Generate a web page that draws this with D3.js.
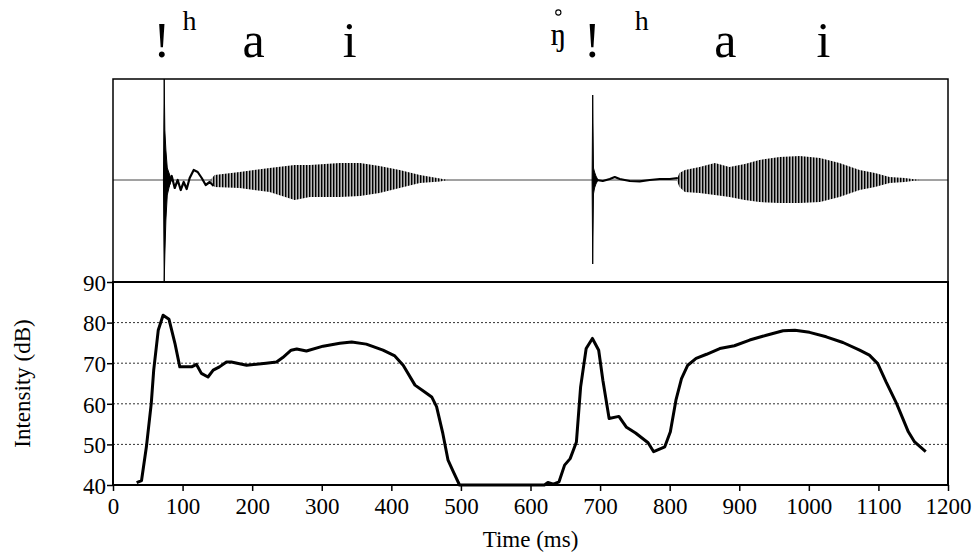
<!DOCTYPE html>
<html lang="en">
<head>
    <meta charset="utf-8">
    <title>Waveform and intensity</title>
    <script src="https://cdn.jsdelivr.net/npm/d3@7"></script>
    <style type="text/css">
        body {
            margin: 0;
            background: #fff;
        }
        .axis line {
            stroke: #000;
            stroke-width: 1.5;
        }
        .grid {
            fill: none;
            stroke: #333;
            stroke-width: 1;
            stroke-dasharray: 2 2;
        }
        .intensity {
            fill: none;
            stroke: #000;
            stroke-width: 3;
            stroke-linejoin: round;
        }
    </style>
</head>
<body>
<svg></svg>
<script type="text/javascript">
    // intensity contour (ms, dB)
    var intTime = [34, 41, 48, 55, 58.5, 65, 72, 80.5, 89, 96, 113, 120, 127, 136.5, 144, 153, 163, 170, 192, 220,
        235, 244, 256, 264, 278, 302, 326, 343, 364, 388, 405, 417, 434, 448, 458, 465, 474, 481.5, 489, 498,
        620, 625, 633, 641, 649, 657, 666, 672, 680, 689, 698, 704, 713, 727, 738, 751, 769, 777, 793, 801,
        809, 817, 826, 838, 853, 872, 893, 915, 939, 963, 980, 1001, 1025, 1049, 1073, 1087, 1099, 1111, 1126,
        1143, 1152, 1168];
    var intDb = [40.6, 41.1, 49.4, 60.1, 68.3, 78.1, 81.8, 80.8, 74.9, 69.1, 69.1, 69.7, 67.5, 66.6, 68.3, 69.1, 70.3, 70.3, 69.5, 70,
        70.3, 71.4, 73.2, 73.5, 73, 74.2, 74.9, 75.2, 74.7, 73.2, 71.8, 69.5, 64.6, 62.9, 61.7, 59.3, 52.7, 46.1, 43.3, 40,
        40, 40.6, 40.2, 40.8, 44.9, 46.5, 50.6, 64.1, 73.6, 76.1, 73.2, 65.8, 56.4, 56.9, 54.2, 52.8, 50.4, 48.2, 49.4, 53.1,
        60.9, 66.2, 69.5, 71.2, 72.2, 73.6, 74.3, 75.7, 76.9, 78, 78.1, 77.6, 76.5, 75.1, 73.2, 72, 69.9, 65.4, 60.1,
        53.1, 50.6, 48.2];

    // waveform envelopes of the two vowels (ms, amplitude)
    var vowel1Time = [140, 146, 182, 225, 261, 283, 326, 355, 383, 412, 441, 470, 481];
    var vowel1Up = [0, 5, 8, 12, 15, 15, 17, 17, 14, 10, 5, 1.5, 0];
    var vowel1Lo = [0, -7, -8, -12, -20, -17, -17, -16, -13, -8, -3, -1.5, 0];

    var vowel2Time = [810, 814, 822, 843, 865, 886, 908, 929, 958, 987, 1016, 1044, 1073, 1095, 1116, 1138, 1159];
    var vowel2Up = [0, 7, 10, 13, 17, 13, 16, 20, 23, 24, 22, 17, 10, 7, 3, 2, 0];
    var vowel2Lo = [0, -7, -12, -13, -15, -17, -20, -22, -23, -23, -22, -17, -10, -7, -3, -2, 0];

    // click bursts
    var click1Time = [72.5, 73.6, 74.5, 76, 78, 81, 84];
    var click1Up = [0, 101, 50, 30, 12, 6, 0];
    var click1Lo = [0, -102, -75, -40, -15, -6, 0];

    var click2Time = [688.5, 689.4, 690.5, 692, 694, 697];
    var click2Up = [0, 85, 12, 8, 4, 0];
    var click2Lo = [0, -84, -14, -8, -4, 0];

    // irregular noise after the clicks
    var noise1Time = [74.4, 77.2, 80, 84.4, 88.7, 93, 97.3, 101.6, 105.9, 110.2, 116, 121.7, 127.5, 133.2, 139, 144.7];
    var noise1Amp = [0, 8, -6, 4, -8, 0, -10, -2, -9, 2, 10, 8, 2, -5, -2, -6];
    var noise2Time = [690, 695.3, 703.9, 714, 721.1, 728.3, 742.7, 757, 771.4, 785.8, 800.2, 811.7];
    var noise2Amp = [0, 0, -1, 1, 3, 1, -1, -1.3, 0, 1, 1, 2];

    // segment labels above the waveform (size: 0 large, 1 superscript, 2 eng)
    var segText = ["!", "h", "a", "i", "\u014B", "!", "h", "a", "i"];
    var segTime = [70, 110, 202, 340, 640, 689, 760, 880, 1021];
    var segKind = [0, 1, 0, 0, 2, 0, 1, 0, 0];

    var yTicks = [40, 50, 60, 70, 80, 90];
    var xTicks = d3.range(0, 1201, 100);

    var serif = '"Liberation Serif", "Times New Roman", "DejaVu Serif", serif';

    var width = 978, height = 556;
    var left = 113, right = 948, waveTop = 79, mid = 282, bottom = 485;

    var xScale = d3.scaleLinear().domain([0, 1200]).range([left, right]);
    var yScale = d3.scaleLinear().domain([40, 90]).range([bottom, mid]);
    var wScale = d3.scaleLinear().domain([-102, 101]).range([mid, waveTop]);

    var svg = d3.select('svg')
        .attr('width', width)
        .attr('height', height);

    var defs = svg.append('defs');
    var pat = defs.append('pattern')
        .attr('id', 'stripes')
        .attr('width', 3)
        .attr('height', 20)
        .attr('patternUnits', 'userSpaceOnUse');
    pat.append('rect').attr('width', 3).attr('height', 20).attr('fill', '#b8b8b8');
    pat.append('rect').attr('width', 1.4).attr('height', 20).attr('fill', '#000');

    defs.append('clipPath').attr('id', 'lowclip')
        .append('rect')
        .attr('x', left).attr('y', mid)
        .attr('width', right - left).attr('height', bottom - mid + 2);

    // --- waveform panel ---
    svg.append('line')
        .attr('x1', left).attr('x2', right)
        .attr('y1', wScale(0)).attr('y2', wScale(0))
        .attr('stroke', '#444')
        .attr('stroke-width', 1);

    function zip(t, a, b) {
        return t.map(function (d, i) { return {t: d, up: a[i], lo: b[i]}; });
    }

    var env = d3.area()
        .x(function (d) { return xScale(d.t); })
        .y0(function (d) { return wScale(d.lo); })
        .y1(function (d) { return wScale(d.up); });

    [[vowel1Time, vowel1Up, vowel1Lo], [vowel2Time, vowel2Up, vowel2Lo]].forEach(function (v) {
        svg.append('path')
            .datum(zip(v[0], v[1], v[2]))
            .attr('d', env)
            .attr('fill', 'url(#stripes)');
    });

    [[click1Time, click1Up, click1Lo], [click2Time, click2Up, click2Lo]].forEach(function (v) {
        svg.append('path')
            .datum(zip(v[0], v[1], v[2]))
            .attr('d', env)
            .attr('fill', '#000')
            .attr('stroke', '#000')
            .attr('stroke-width', 1);
    });

    var noiseLine = d3.line()
        .x(function (d) { return xScale(d.t); })
        .y(function (d) { return wScale(d.a); });

    [[noise1Time, noise1Amp], [noise2Time, noise2Amp]].forEach(function (v) {
        svg.append('path')
            .datum(v[0].map(function (d, i) { return {t: d, a: v[1][i]}; }))
            .attr('d', noiseLine)
            .attr('fill', 'none')
            .attr('stroke', '#000')
            .attr('stroke-width', 2.2)
            .attr('stroke-linejoin', 'round');
    });

    svg.append('rect')
        .attr('x', left).attr('y', waveTop)
        .attr('width', right - left).attr('height', mid - waveTop)
        .attr('fill', 'none')
        .attr('stroke', '#000')
        .attr('stroke-width', 1.5);

    // --- intensity panel ---
    svg.selectAll('.grid')
        .data([50, 60, 70, 80])
        .enter().append('line')
        .attr('class', 'grid')
        .attr('x1', left).attr('x2', right)
        .attr('y1', function (d) { return yScale(d); })
        .attr('y2', function (d) { return yScale(d); });

    var line = d3.line()
        .x(function (d, i) { return xScale(intTime[i]); })
        .y(function (d) { return yScale(d); });

    svg.append('path')
        .datum(intDb)
        .attr('class', 'intensity')
        .attr('clip-path', 'url(#lowclip)')
        .attr('d', line);

    svg.append('rect')
        .attr('x', left).attr('y', mid)
        .attr('width', right - left).attr('height', bottom - mid)
        .attr('fill', 'none')
        .attr('stroke', '#000')
        .attr('stroke-width', 2);

    var yAxis = svg.append('g')
        .attr('class', 'axis')
        .attr('transform', 'translate(' + left + ',0)')
        .call(d3.axisLeft(yScale).tickValues(yTicks).tickSize(6).tickPadding(1));
    yAxis.select('.domain').remove();
    yAxis.selectAll('text')
        .attr('dy', '0.36em')
        .style('font-family', serif)
        .style('font-size', '23px')
        .style('fill', '#000');

    var xAxis = svg.append('g')
        .attr('class', 'axis')
        .attr('transform', 'translate(0,' + bottom + ')')
        .call(d3.axisBottom(xScale).tickValues(xTicks).tickFormat(d3.format('d')).tickSize(6).tickPadding(6));
    xAxis.select('.domain').remove();
    xAxis.selectAll('text')
        .attr('dy', '0.75em')
        .style('font-family', serif)
        .style('font-size', '23px')
        .style('fill', '#000');

    svg.append('text')
        .attr('x', (left + right) / 2)
        .attr('y', 547)
        .attr('text-anchor', 'middle')
        .style('font-family', serif)
        .style('font-size', '23px')
        .text('Time (ms)');

    svg.append('text')
        .attr('transform', 'translate(30,' + ((mid + bottom) / 2) + ') rotate(-90)')
        .attr('text-anchor', 'middle')
        .style('font-family', serif)
        .style('font-size', '23px')
        .text('Intensity (dB)');

    // segment labels
    var segY = [57, 30, 45], segSize = ['50px', '28px', '32px'];
    svg.selectAll('.seg')
        .data(segText)
        .enter().append('text')
        .attr('class', 'seg')
        .attr('x', function (d, i) { return xScale(segTime[i]); })
        .attr('y', function (d, i) { return segY[segKind[i]]; })
        .attr('text-anchor', 'middle')
        .style('font-family', serif)
        .style('font-size', function (d, i) { return segSize[segKind[i]]; })
        .text(function (d) { return d; });

    // voiceless ring over the eng
    svg.append('circle')
        .attr('cx', xScale(segTime[4]))
        .attr('cy', 12.5)
        .attr('r', 2.6)
        .attr('fill', 'none')
        .attr('stroke', '#000')
        .attr('stroke-width', 1.1);
</script>
</body>
</html>
